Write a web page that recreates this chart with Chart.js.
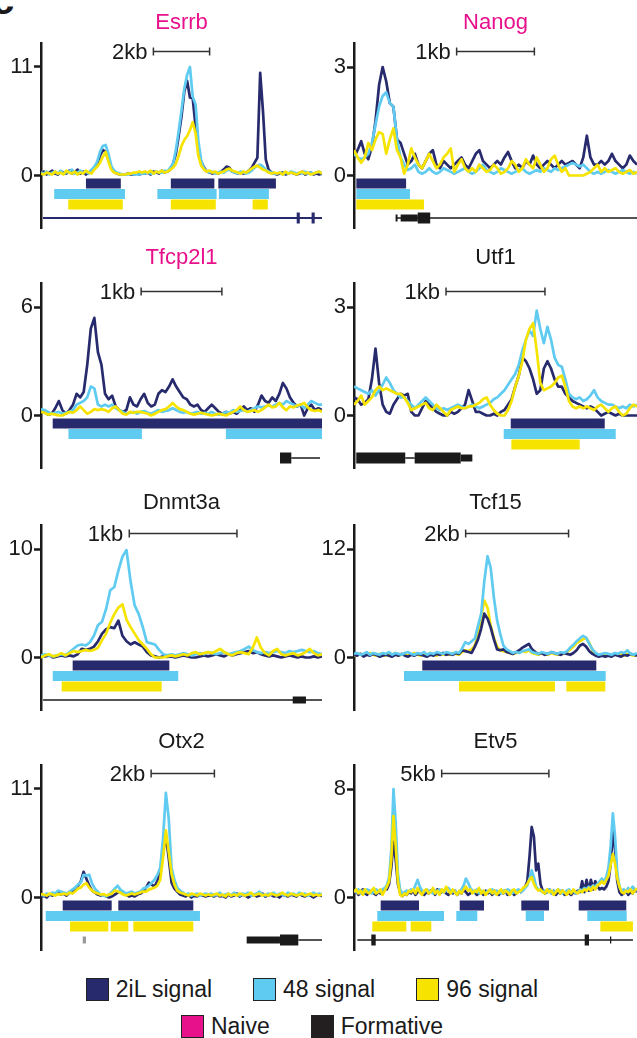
<!DOCTYPE html>
<html>
<head>
<meta charset="utf-8">
<script src="https://cdn.jsdelivr.net/npm/chart.js@4.4.1/dist/chart.umd.min.js"></script>
<style>
  body { margin: 0; background: #fff; width: 637px; height: 1038px; position: relative; overflow: hidden;
         font-family: 'Liberation Sans', Arial, sans-serif; color: #1a1a1a; }
  canvas { position: absolute; }
  .tag { position: absolute; left: -8px; top: -20px; font: bold 40px 'Liberation Sans', Arial, sans-serif; line-height: 40px; }
  .legend { position: absolute; left: 0; width: 624px; height: 24px; display: flex; justify-content: center;
            align-items: center; gap: 41px; font-size: 23px; }
  .legend span.item { display: flex; align-items: center; white-space: nowrap; }
  .legend i { display: inline-block; width: 21px; height: 21px; border: 1px solid #222; margin-right: 7px; box-sizing: content-box; }
</style>
</head>
<body>
<div class="tag">c</div>
<div class="legend" style="top:977px">
  <span class="item"><i style="background:#272b6d"></i>2iL signal</span>
  <span class="item"><i style="background:#5fcbf1"></i>48 signal</span>
  <span class="item"><i style="background:#f6e400"></i>96 signal</span>
</div>
<div class="legend" style="top:1014px">
  <span class="item"><i style="background:#e8118c"></i>Naive</span>
  <span class="item"><i style="background:#231f20"></i>Formative</span>
</div>
<script>
// --- Panels ---
const GENES = ['Esrrb', 'Nanog', 'Tfcp2l1', 'Utf1', 'Dnmt3a', 'Tcf15', 'Otx2', 'Etv5'];
const NAIVE_GENES = ['Esrrb', 'Nanog', 'Tfcp2l1'];
const Y_MAX = [11, 3, 6, 3, 10, 12, 11, 8];
const WINDOW_KB = [10, 3.64, 3.48, 2.86, 2.61, 5.5, 8.88, 13.2];
const SCALE_KB = [2, 1, 1, 1, 1, 2, 2, 5];
const SCALE_START_KB = [4.0, 1.32, 1.24, 0.93, 0.82, 2.17, 3.48, 4.09];

// --- Signal tracks (evenly spaced across each window) ---
const ESRRB_2IL = [0.2,0.4,0.1,0.3,0.5,0.2,0.1,0.4,0.3,0.2, 0.5,0.2,0.3,0.6,0.2,0.4,0.1,0.3,0.5,0.8,
  1.2,2.0,2.6,2.4,1.6,0.8,0.4, 0.2,0.1,0.1,0.1,0.2,0.1,0.1,0.2,0.1,0.2, 0.2,0.3,0.1,0.4,0.3,0.2,0.5,0.3,0.4,0.6,
  1.2,2.2,4.0,6.0,8.5,9.6,7.9,7.8,5.0,2.6,1.4,0.8,0.4, 0.3,0.2,0.3,0.2,0.4,0.6,0.9,0.8,0.4,0.3,
  0.2,0.3,0.2,0.3,0.5,0.8,1.3,1.8,10.4,6.5,1.6,0.6,0.3,0.2,
  0.1,0.2,0.3,0.1,0.2,0.3,0.2,0.1,0.2,0.4,0.1,0.2,0.3,0.1,0.2,0.1,0.2];
const ESRRB_48 = [0.3,0.2,0.4,0.1,0.3,0.4,0.2,0.5,0.2,0.3, 0.4,0.6,0.2,0.3,0.5,0.3,0.4,0.2,0.6,0.9,
  1.4,2.4,3.0,3.1,2.2,1.0,0.5, 0.3,0.2,0.1,0.1,0.1,0.2,0.1,0.1,0.1,0.2, 0.2,0.3,0.2,0.2,0.4,0.3,0.3,0.5,0.4,0.8,
  1.2,2.6,4.5,6.6,8.8,10.2,11.0,8.0,7.2,3.5,1.5,0.7,0.4, 0.3,0.4,0.2,0.3,0.4,0.3,0.5,0.6,0.4,0.3,
  0.2,0.4,0.3,0.2,0.3,0.5,0.8,1.0,1.1,0.9,0.6,0.4,0.3,0.2,
  0.2,0.3,0.1,0.3,0.2,0.4,0.3,0.2,0.3,0.2,0.4,0.2,0.3,0.2,0.3,0.4,0.2];
const ESRRB_96 = [0.2,0.1,0.3,0.2,0.1,0.4,0.2,0.3,0.1,0.5, 0.3,0.2,0.4,0.1,0.3,0.2,0.5,0.3,0.2,0.6,
  0.9,1.3,1.9,2.4,1.4,0.6,0.3, 0.2,0.1,0.1,0.1,0.2,0.2,0.3,0.3,0.4,0.3, 0.4,0.3,0.5,0.2,0.4,0.3,0.5,0.3,0.4,0.6,
  0.8,1.2,2.0,3.0,3.6,4.0,4.6,5.4,4.3,2.0,1.0,0.6,0.4, 0.5,0.3,0.4,0.2,0.3,0.4,0.6,0.7,0.5,0.4,
  0.3,0.2,0.4,0.3,0.5,0.7,0.9,1.0,0.8,0.6,0.5,0.3,0.2,0.3,
  0.2,0.3,0.1,0.4,0.2,0.3,0.2,0.1,0.3,0.4,0.2,0.3,0.1,0.2,0.3,0.4,0.2];

const NANOG_2IL = [0.5,0.7,0.95,0.6,0.45,0.8,1.5,2.5,3.0,2.6, 2.0,1.9,1.0,0.9,0.6,0.3,0.4,0.6,0.3,0.2,
  0.4,0.6,0.7,0.3,0.2,0.4,0.3,0.2,0.3,0.4, 0.5,0.3,0.2,0.4,0.6,0.7,0.4,0.3,0.2,0.3,
  0.4,0.3,0.5,0.65,0.4,0.2,0.3,0.2,0.4,0.3, 0.55,0.3,0.2,0.3,0.4,0.3,0.2,0.3,0.4,0.3,
  0.35,0.4,0.3,0.2,0.5,1.1,0.5,0.3,0.3,0.4, 0.3,0.4,0.6,0.4,0.3,0.2,0.3,0.55,0.4,0.3];
const NANOG_48 = [0.6,0.5,0.45,0.5,0.6,0.9,1.4,1.9,2.2,2.3, 2.0,1.9,1.0,0.5,0.3,0.15,0.2,0.3,0.1,0.05,
  0.1,0.2,0.1,0.05,0.1,0.2,0.15,0.1,0.05,0.1, 0.15,0.2,0.1,0.05,0.1,0.2,0.3,0.15,0.1,0.05,
  0.1,0.2,0.15,0.1,0.05,0.1,0.15,0.2,0.1,0.05, 0.1,0.15,0.1,0.2,0.15,0.1,0.2,0.15,0.2,0.25,
  0.3,0.35,0.3,0.25,0.3,0.2,0.1,0.05,0.1,0.05, 0.1,0.15,0.1,0.05,0.1,0.15,0.1,0.05,0.1,0.05];
const NANOG_96 = [0.7,0.5,0.35,0.5,0.9,0.7,1.0,1.2,1.15,0.6, 1.0,1.3,0.7,0.5,0.05,0.3,0.75,0.5,0.3,0.2,
  0.4,0.6,0.4,0.2,0.3,0.5,0.6,0.75,0.1,0.3, 0.45,0.2,0.1,0.2,0.1,0.3,0.2,0.1,0.15,0.3,
  0.2,0.05,0.1,0.2,0.4,0.3,0.1,0.2,0.45,0.3, 0.2,0.5,0.3,0.1,0.2,0.45,0.55,0.3,0.1,0.2,
  0,0,0,0,0,0.05,0.1,0.2,0.3,0.1, 0.2,0.1,0.15,0.2,0.1,0.05,0.1,0.15,0.05,0.1];

const TFCP2L1_2IL = [0.3,0.2,0.05,0.1,0.4,0.8,0.3,0.1,0.3,0.6, 1.2,1.0,1.3,2.8,4.8,5.4,3.5,2.8,1.2,0.9,
  1.1,0.5,0.3,0.2,0.3,1.0,0.6,0.5,0.9,1.2, 0.7,0.5,0.6,1.2,1.4,1.3,1.6,2.0,1.6,1.3,
  1.0,0.9,0.6,0.5,0.6,0.3,0.2,0.4,0.6,0.4, 0.2,0.1,0.2,0.1,0.2,0.1,0.3,0.5,0.3,0.4,
  0.2,0.6,1.1,0.8,0.7,1.0,0.8,1.2,1.8,1.5, 1.0,0.7,0.5,0.6,0,0.4,0.6,0.3,0.4,0.3];
const TFCP2L1_48 = [0.35,0.3,0.2,0.1,0.15,0.2,0.1,0.15,0.2,0.3, 0.6,0.7,0.8,1.0,1.6,1.5,0.6,0.5,0.6,0.5,
  0.6,0.4,0.3,0.2,0.1,0.15,0.2,0.1,0.2,0.25, 0.15,0.1,0.2,0.3,0.2,0.25,0.3,0.4,0.3,0.2,
  0.15,0.2,0.1,0.15,0.2,0.1,0.15,0.1,0.2,0.1, 0.05,0.1,0.2,0.15,0.3,0.2,0.25,0.3,0.2,0.3,
  0.4,0.5,0.45,0.5,0.55,0.5,0.6,0.7,0.6,0.8, 0.7,0.6,0.5,0.6,0.4,0.6,0.8,0.7,0.6,0.6];
const TFCP2L1_96 = [0.2,0.15,0.05,0.1,0.05,0,0,0.1,0.2,0.15, 0.3,0.5,0.3,0.1,0.2,0.35,0.3,0.35,0.3,0.2,
  0.4,0.5,0.3,0.1,0.05,0.2,0.15,0.2,0.2,0.15, 0.1,0,0.1,0.2,0.3,0.35,0.5,0.7,0.5,0.35,
  0.3,0.2,0.1,0.05,0.1,0.15,0.1,0.05,0,0.05, 0.1,0.05,0,0.1,0.2,0.3,0.5,0.3,0.2,0.25,
  0.3,0.2,0.3,0.45,0.6,0.45,0.5,0.7,0.45,0.3, 0.5,0.45,0.55,0.6,0.7,0.45,0.3,0.25,0.3,0.2];

const UTF1_2IL = [0.5,0.45,0.3,0.35,0.45,1.0,1.85,0.9,0.3,0.1, 0.05,0.3,0.45,0.6,0.55,0.6,0.1,0,0,0.2,
  0.4,0.3,0.2,0.1,0.05,0,0,0.1,0.05,0.1, 0.2,0.3,0.7,0.4,0.1,0.1,0.05,0,0,0.05,
  0,0.1,0.15,0.3,0.45,0.8,1.1,1.6,1.5,1.3, 1.0,0.6,0.7,1.3,1.5,1.3,1.0,0.8,0.8,0.6,
  0.5,0.4,0.35,0.3,0.25,0.2,0.25,0.2,0.1,0, 0.05,0.1,0.05,0,0.05,0,0,0,0,0];
const UTF1_48 = [0.8,0.75,0.7,0.65,0.6,0.7,0.55,0.7,0.85,1.05, 0.9,0.7,0.6,0.5,0.5,0.4,0.3,0.2,0.3,0.4,
  0.5,0.4,0.3,0.2,0.15,0.2,0.15,0.2,0.25,0.3, 0.25,0.2,0.25,0.3,0.25,0.2,0.25,0.3,0.35,0.45,
  0.5,0.6,0.7,0.85,1.0,1.15,1.4,1.8,2.1,2.35, 2.2,2.9,2.4,2.0,2.45,2.1,1.6,1.4,1.35,1.0,
  0.6,0.5,0.45,0.5,0.4,0.45,0.55,0.7,0.5,0.4, 0.35,0.3,0.3,0.25,0.2,0.25,0.2,0.3,0.25,0.3];
const UTF1_96 = [0.3,0.4,0.55,0.3,0.4,0.5,0.7,0.8,0.7,0.75, 0.7,0.65,0.6,0.6,0.5,0.35,0.15,0.2,0.25,0.3,
  0.35,0.2,0.15,0.3,0.2,0.1,0,0.15,0.2,0.25, 0.2,0.2,0.25,0.25,0.3,0.35,0.45,0.5,0.3,0.15,
  0.05,0,0,0.15,0.4,0.8,1.1,1.5,2.1,2.4, 2.55,1.8,0.9,0.7,0.75,0.8,0.9,1.05,1.1,0.8,
  0.4,0.25,0.2,0.25,0.2,0.25,0.2,0.15,0.25,0.3, 0.2,0.1,0.2,0.25,0.1,0,0.05,0.2,0.3,0.25];

const DNMT3A_2IL = [0.2,0.1,0.2,0,0.1,0.2,0.1,0.2,0.1,0.3, 0.8,0.7,0.8,1.0,1.5,2.2,2.6,2.8,2.7,3.4,
  2.0,1.5,1.2,1.4,1.2,1.0,0.5,0.2,0.1,0, 0.1,0.05,0.1,0,0.1,0.2,0.1,0,0,0.1,
  0.2,0.1,0.2,0.3,0.2,0.1,0.3,0.2,0.3,0.4, 0.5,0.6,0.4,0.5,0.3,0.2,0.1,0.2,0.1,0,
  0.1,0.2,0.1,0,0.1,0,0,0.1,0,0.1];
const DNMT3A_48 = [0.2,0.3,0.2,0.1,0.2,0.3,0.2,0.5,0.8,1.1, 1.2,1.1,1.4,2.0,3.0,3.3,4.5,6.2,6.5,8.0,
  9.3,9.9,7.0,4.8,4.0,2.8,1.4,1.3,1.2,0.7, 0.3,0.2,0.3,0.2,0.3,0.4,0.3,0.2,0.3,0.4,
  0.3,0.5,0.4,0.3,0.4,0.5,0.3,0.4,0.5,0.6, 0.8,1.0,0.7,0.5,0.4,0.5,0.4,0.5,0.6,0.5,
  0.4,0.6,0.5,0.6,0.7,0.6,0.5,0.6,0.4,0.3];
const DNMT3A_96 = [0,0.2,0.3,0.1,0.2,0.4,0.2,0.4,0.6,0.5, 0.6,0.7,0.6,0.7,0.9,1.6,2.2,3.2,4.0,4.6,
  4.9,3.5,2.8,2.2,1.6,1.2,0.8,0.3,0,0, 0,0.1,0.2,0.1,0.2,0.3,0.2,0.4,0.5,0.3,
  0.4,0.5,0.4,0.6,0.8,0.5,0.3,0.2,0.4,0.5, 0.4,0.3,0.9,1.85,0.9,0.4,0.2,0.6,0.8,0.3,
  0.2,0.3,0.4,0.2,0.3,0.5,0.8,0.4,0.2,0.3];

const TCF15_2IL = [0.3,0.2,0.4,0.1,0.3,0.2,0.4,0.3,0.1,0.2, 0.3,0.2,0.1,0.3,0.2,0.4,0.2,0.1,0.3,0.2,
  0.4,0.3,0.2,0.1,0.3,0.2,0.4,0.3,0.5,0.3, 0.4,0.3,0.5,0.4,0.8,0.7,0.6,0.5,1.2,2.0,
  3.2,4.85,4.3,3.3,2.0,0.9,0.8,0.9,0.6,0.5, 0.4,0.6,0.8,1.1,1.3,1.5,0.9,0.6,0.4,0.5,
  0.3,0.4,0.6,0.5,0.4,0.3,0.5,0.4,0.3,0.5, 0.8,1.3,1.5,1.2,0.7,0.4,0.2,0.1,0.2,0.1,
  0.2,0.1,0.3,0.2,0.1,0.3,0.2,0.4,0.3,0.2];
const TCF15_48 = [0.4,0.5,0.3,0.4,0.6,0.3,0.5,0.4,0.3,0.5, 0.4,0.6,0.3,0.5,0.4,0.3,0.5,0.6,0.4,0.3,
  0.5,0.4,0.6,0.3,0.5,0.4,0.6,0.5,0.4,0.6, 0.5,0.4,0.6,0.5,1.0,1.7,1.5,1.8,2.1,3.5,
  4.85,8.5,11.2,9.9,6.6,4.1,2.6,1.3,0.9,0.7, 0.5,0.6,0.5,0.7,0.8,0.9,0.6,0.5,0.4,0.6,
  0.5,0.4,0.6,0.5,0.4,0.6,0.5,0.7,1.1,1.4, 1.8,2.1,2.4,2.2,1.5,0.9,0.5,0.3,0.4,0.5,
  0.4,0.3,0.5,0.4,0.6,0.5,0.8,0.4,0.3,0.5];
const TCF15_96 = [0.2,0.3,0.4,0.2,0.3,0.5,0.3,0.2,0.4,0.3, 0.2,0.4,0.3,0.5,0.2,0.3,0.4,0.2,0.3,0.5,
  0.3,0.2,0.4,0.3,0.5,0.3,0.2,0.4,0.3,0.4, 0.3,0.5,0.4,0.3,0.6,0.8,0.7,0.9,1.3,2.5,
  4.5,6.3,5.5,3.5,2.2,1.2,0.8,0.7,0.6,0.5, 0.4,0.5,0.6,0.7,0.6,0.8,0.5,0.4,0.3,0.5,
  0.4,0.3,0.5,0.4,0.3,0.5,0.4,0.6,0.9,1.2, 1.6,1.8,2.0,2.2,1.6,0.8,0.4,0.3,0.2,0.4,
  0.3,0.2,0.4,0.3,0.5,0.2,0.4,0.3,0.2,0.3];

const OTX2_2IL = [0.1,0.2,0,0.3,0.2,0.4,0.5,0.3,0.4,0.2,0.5,0.6, 0.9,1.2,1.6,2.6,1.9,1.2,0.7,0.5,
  0.3,0.2,0.3,0.1,0,0.1,0.3,0.5,0.6,0.4, 0.3,0.1,0.2,0.1,0.3,0.4,0.6,1.0,1.5,1.3,1.1,
  1.7,2.5,4.5,6.3,4.0,1.5,0.9,0.6,0.3, 0.2,0.1,0.3,0,0.2,0.1,0.3,0.2,0.1,0.2,
  0.2,0.1,0.3,0.1,0.2,0,0.3,0.1,0.2,0.4, 0.1,0.3,0.2,0,0.2,0.3,0.1,0.2,0.4,0.1,
  0.2,0.3,0.1,0.2,0,0.3,0.2,0.1,0.3,0.2, 0.1,0.4,0.2,0.1,0.3,0.2,0,0.2,0.3,0.1];
const OTX2_48 = [0.3,0.2,0.4,0.3,0.5,0.4,0.7,0.6,0.5,0.4,0.6,0.8, 1.0,1.3,1.5,2.3,2.2,2.3,1.4,0.9,
  0.6,0.3,0.2,0.1,0.3,0.6,0.9,1.2,0.8,0.6, 0.4,0.5,0.6,0.4,0.5,0.6,0.9,1.0,1.2,1.5,1.8,
  2.3,3.0,6.0,10.6,8.0,3.0,1.8,1.0,0.7, 0.5,0.3,0.4,0.2,0.3,0.4,0.2,0.3,0.4,0.3,
  0.4,0.2,0.3,0.5,0.2,0.3,0.4,0.2,0.5,0.3, 0.2,0.4,0.3,0.5,0.2,0.3,0.4,0.6,0.3,0.2,
  0.4,0.3,0.5,0.2,0.4,0.3,0.2,0.5,0.3,0.4, 0.2,0.5,0.3,0.4,0.2,0.3,0.5,0.3,0.4,0.3];
const OTX2_96 = [0.35,0.3,0.2,0.4,0.3,0.2,0.35,0.3,0.4,0.3,0.5,0.4, 0.6,0.9,1.0,1.3,1.45,1.0,0.7,0.5,
  0.4,0.3,0.35,0.2,0.3,0.4,0.7,0.6,0.5,0.3, 0.2,0.3,0.4,0.3,0.4,0.5,0.6,0.6,0.8,0.9,1.0,
  1.2,1.8,4.0,6.8,4.6,2.4,1.3,0.7,0.5, 0.4,0.3,0.2,0.4,0.3,0.2,0.4,0.3,0.2,0.3,
  0.2,0.3,0.4,0.2,0.3,0.1,0.4,0.2,0.3,0.2, 0.4,0.3,0.2,0.3,0.5,0.2,0.3,0.4,0.2,0.3,
  0.2,0.4,0.3,0.2,0.3,0.5,0.3,0.2,0.4,0.3, 0.2,0.3,0.4,0.2,0.3,0.4,0.2,0.3,0.2,0.3];

const ETV5_2IL = [0.3,0.5,0.2,0.4,0.6,0.3,0.2,0.5,0.4,0.3,0.2,0.4,0.3,0.5,0.6,
  0.6,1.0,2.2,4.1,2.8,1.0,0.4,0.1,
  0.3,0.2,0.4,0.3,0.5,0.2,0.4,0.6,0.3,0.2, 0.4,0.3,0.5,0.4,0.2,0.6,0.3,0.4,0.5,0.3,
  0.2,0.4,0.3,0.5,0.2,0.4,0.3,0.6,0.4,0.2, 0.3,0.5,0.4,0.2,0.3,0.4,0.2,0.5,
  0.3,0.4,0.2,0.5,0.3,0.2,0.4,0.3,0.5,0.2,0.3,0.4,0.2,0.3,0.5,0.4,0.6,0.8,
  1.2,3.0,5.2,4.5,2.0,2.5,1.0,0.5,
  0.3,0.4,0.6,0.3,0.5,0.2,0.4,0.3,0.5,0.2,0.4,0.3,0.2,0.4,0.3,0.5,0.4,
  1.2,0.4,1.3,0.5,1.3,0.6,1.2,0.8,0.6,
  0.7,0.6,0.8,1.2,2.5,4.9,3.5,1.2,0.4,0.2,
  0.3,0.5,0.2,0.4,0.3,0.6,0.4];
const ETV5_48 = [0.5,0.4,0.6,0.3,0.5,0.4,0.6,0.5,0.3,0.4,0.6,0.5,0.4,0.6,0.7,
  0.9,1.5,3.5,8.0,5.5,1.8,0.6,0.3,
  0.4,0.5,0.4,0.6,0.5,0.9,1.3,0.8,0.5,0.4, 0.6,0.5,0.4,0.3,0.5,0.4,0.6,0.5,0.4,0.5,
  0.7,0.5,0.4,0.5,0.3,0.4,0.6,0.9,1.4,1.1, 0.7,0.5,0.4,0.6,0.3,0.5,0.4,0.3,
  0.5,0.4,0.6,0.3,0.5,0.4,0.3,0.5,0.4,0.6,0.5,0.3,0.4,0.5,0.6,0.4,0.5,0.7,
  0.9,1.4,2.0,1.5,0.8,0.6,0.5,0.4,
  0.5,0.4,0.6,0.3,0.5,0.4,0.6,0.5,0.3,0.4,0.5,0.6,0.4,0.5,0.3,0.4,0.6,
  0.5,0.7,0.6,0.8,0.7,0.9,0.8,1.0,1.2,
  1.4,1.2,1.5,2.2,3.8,6.2,4.5,1.8,0.8,0.5,
  0.6,0.4,0.7,0.5,0.8,0.6,0.5];
const ETV5_96 = [0.4,0.6,0.3,0.5,0.2,0.6,0.4,0.3,0.5,0.7,0.3,0.4,0.6,0.2,0.5,
  0.8,1.2,2.8,6.0,3.8,1.2,0.2,0.1,
  0.3,0.2,0.5,0.4,0.6,0.3,0.7,0.4,0.2,0.5, 0.6,0.3,0.4,0.7,0.3,0.5,0.2,0.6,0.4,0.8,
  0.5,0.3,0.6,0.4,0.2,0.5,0.3,0.6,0.8,0.5, 0.6,0.3,0.5,0.4,0.7,0.3,0.5,0.2,
  0.4,0.6,0.3,0.5,0.2,0.4,0.6,0.3,0.5,0.4,0.2,0.5,0.6,0.3,0.4,0.5,0.7,0.8,
  1.0,1.3,1.5,1.0,0.7,0.5,0.6,0.4,
  0.3,0.6,0.4,0.5,0.2,0.4,0.6,0.3,0.5,0.4,0.2,0.5,0.3,0.6,0.4,0.3,0.5,
  0.4,0.6,0.5,0.7,0.5,0.8,0.6,0.9,1.0,
  1.2,1.0,1.3,1.6,2.4,3.2,2.5,1.4,0.8,0.4,
  0.3,0.5,0.4,0.6,0.3,0.5,0.7];

// --- Peak calls, [start, end] in kb from window start ---
const ESRRB_PEAKS_2IL = [[1.60, 2.84], [4.62, 6.17], [6.31, 8.36]];
const ESRRB_PEAKS_48 = [[0.47, 2.99], [4.14, 6.25], [6.33, 8.11]];
const ESRRB_PEAKS_96 = [[0.97, 2.91], [4.62, 6.22], [7.53, 8.07]];
const NANOG_PEAKS_2IL = [[0.03, 0.67]];
const NANOG_PEAKS_48 = [[0.03, 0.72]];
const NANOG_PEAKS_96 = [[0.03, 0.90]];
const TFCP2L1_PEAKS_2IL = [[0.145, 3.48]];
const TFCP2L1_PEAKS_48 = [[0.34, 1.25], [2.29, 3.48]];
const TFCP2L1_PEAKS_96 = [];
const UTF1_PEAKS_2IL = [[1.584, 2.534]];
const UTF1_PEAKS_48 = [[1.513, 2.645]];
const UTF1_PEAKS_96 = [[1.590, 2.281]];
const DNMT3A_PEAKS_2IL = [[0.294, 1.192]];
const DNMT3A_PEAKS_48 = [[0.109, 1.275]];
const DNMT3A_PEAKS_96 = [[0.192, 1.121]];
const TCF15_PEAKS_2IL = [[1.327, 4.709]];
const TCF15_PEAKS_48 = [[0.972, 4.892]];
const TCF15_PEAKS_96 = [[2.041, 3.906], [4.126, 4.884]];
const OTX2_PEAKS_2IL = [[0.686, 2.234], [2.443, 4.813]];
const OTX2_PEAKS_48 = [[0.149, 5.024]];
const OTX2_PEAKS_96 = [[0.916, 2.127], [2.203, 2.759], [2.917, 4.813]];
const ETV5_PEAKS_2IL = [[1.245, 3.032], [4.93, 6.064], [7.803, 9.095], [10.48, 12.70]];
const ETV5_PEAKS_48 = [[1.087, 4.198], [4.772, 5.751], [8.009, 8.862], [10.88, 12.72]];
const ETV5_PEAKS_96 = [[0.854, 2.439], [2.645, 3.605], [11.49, 13.01]];

// --- Gene models (kb): intron line, UTR blocks, coding blocks, other marks ---
const ESRRB_GENE = { line: [[0.07, 10]], utr: [], cds: [[9.10, 9.21], [9.63, 9.74]], mark: [] };
const NANOG_GENE = { line: [[0.54, 3.64]], utr: [[0.535, 0.56], [0.60, 0.82]], cds: [[0.82, 0.98]], mark: [] };
const TFCP2L1_GENE = { line: [[3.10, 3.455]], utr: [], cds: [[2.96, 3.10]], mark: [] };
const UTF1_GENE = { line: [[0.518, 0.613]], utr: [[1.078, 1.196]], cds: [[0.023, 0.518], [0.613, 1.078]], mark: [] };
const DNMT3A_GENE = { line: [[0.019, 2.61]], utr: [[2.338, 2.461]], cds: [], mark: [] };
const TCF15_GENE = { line: [], utr: [], cds: [], mark: [] };
const OTX2_GENE = { line: [[8.131, 8.88]], utr: [[6.5, 7.552]], cds: [[7.552, 8.131]], mark: [[1.318, 1.422]] };
const ETV5_GENE = { line: [[0.154, 13.01]], utr: [[11.94, 12.0]], cds: [[0.807, 1.012], [10.76, 10.96]], mark: [] };

const SIGNALS = [
    [ESRRB_2IL, ESRRB_48, ESRRB_96], [NANOG_2IL, NANOG_48, NANOG_96],
    [TFCP2L1_2IL, TFCP2L1_48, TFCP2L1_96], [UTF1_2IL, UTF1_48, UTF1_96],
    [DNMT3A_2IL, DNMT3A_48, DNMT3A_96], [TCF15_2IL, TCF15_48, TCF15_96],
    [OTX2_2IL, OTX2_48, OTX2_96], [ETV5_2IL, ETV5_48, ETV5_96]
];
const PEAKS = [
    [ESRRB_PEAKS_2IL, ESRRB_PEAKS_48, ESRRB_PEAKS_96], [NANOG_PEAKS_2IL, NANOG_PEAKS_48, NANOG_PEAKS_96],
    [TFCP2L1_PEAKS_2IL, TFCP2L1_PEAKS_48, TFCP2L1_PEAKS_96], [UTF1_PEAKS_2IL, UTF1_PEAKS_48, UTF1_PEAKS_96],
    [DNMT3A_PEAKS_2IL, DNMT3A_PEAKS_48, DNMT3A_PEAKS_96], [TCF15_PEAKS_2IL, TCF15_PEAKS_48, TCF15_PEAKS_96],
    [OTX2_PEAKS_2IL, OTX2_PEAKS_48, OTX2_PEAKS_96], [ETV5_PEAKS_2IL, ETV5_PEAKS_48, ETV5_PEAKS_96]
];
const GENE_MODELS = [ESRRB_GENE, NANOG_GENE, TFCP2L1_GENE, UTF1_GENE, DNMT3A_GENE, TCF15_GENE, OTX2_GENE, ETV5_GENE];

// --- Styles ---
const FONT = "'Liberation Sans', Arial, sans-serif";
const INK = '#1a1a1a';
const PINK = '#e8118c';
const SERIES_COLORS = ['#272b6d', '#5fcbf1', '#f6e400'];
// draw order per panel (lower = drawn on top): [2iL, 48, 96]
const LAYERS = [[3, 2, 1], [3, 2, 1], [3, 2, 1], [3, 2, 1], [3, 2, 1], [2, 1, 3], [3, 2, 1], [3, 2, 1]];

// layout: columns / rows of the 2x4 grid
const COLS = [{ left: 0, width: 322, axisWidth: 41 }, { left: 312, width: 325, axisWidth: 42 }];
const ROWS = [{ top: 0, titleTop: 9.3 }, { top: 240, titleTop: 4.8 }, { top: 482, titleTop: 7.8 }, { top: 722, titleTop: 6.5 }];
const HEAD_H = 43;         // title block height
const TRACK_H = 186;       // plot height, the track axis runs in px from the top
const ZERO_Y = 132.5;      // px from plot top to signal 0
const TOP_TICK_Y = 24;     // px from plot top to the max tick
const BAR_ROWS = [140.5, 151, 161.5];
const GENE_ROW = 175;
const SCALEBAR_ROW = 8.5;

function segments(list, level) {
    const pts = [];
    list.forEach(([a, b]) => {
        pts.push({ x: a, y: level }, { x: b, y: level }, { x: b, y: null });
    });
    return pts;
}

function trackSet(list, level, color, width, order) {
    return {
        data: segments(list, level), yAxisID: 'yt', borderColor: color, borderWidth: width,
        borderCapStyle: 'butt', pointRadius: 0, spanGaps: false, order: order
    };
}

// text label next to the scale bar
const scaleLabel = {
    id: 'scaleLabel',
    afterDatasetsDraw(chart, args, opts) {
        const { ctx, scales } = chart;
        ctx.save();
        ctx.font = `22px ${FONT}`;
        ctx.fillStyle = INK;
        ctx.textAlign = 'right';
        ctx.textBaseline = 'middle';
        ctx.fillText(opts.text, scales.x.getPixelForValue(opts.start) - 6, scales.yt.getPixelForValue(SCALEBAR_ROW) + 1);
        ctx.restore();
    }
};

GENES.forEach((gene, k) => {
    const col = COLS[k % 2];
    const row = ROWS[Math.floor(k / 2)];
    const ymax = Y_MAX[k];
    const span = WINDOW_KB[k];
    const unit = (ZERO_Y - TOP_TICK_Y) / ymax;  // px per signal unit

    const canvas = document.createElement('canvas');
    canvas.width = col.width;
    canvas.height = HEAD_H + TRACK_H;
    canvas.style.left = col.left + 'px';
    canvas.style.top = row.top + 'px';
    document.body.appendChild(canvas);

    const datasets = [];
    SIGNALS[k].forEach((vals, s) => {
        datasets.push({
            label: ['2iL signal', '48 signal', '96 signal'][s],
            data: vals.map((v, i) => ({ x: i * span / (vals.length - 1), y: v })),
            yAxisID: 'y', borderColor: SERIES_COLORS[s], borderWidth: 2.7,
            pointRadius: 0, tension: 0, borderJoinStyle: 'round', order: LAYERS[k][s]
        });
    });
    PEAKS[k].forEach((list, s) => {
        datasets.push(trackSet(list, BAR_ROWS[s], SERIES_COLORS[s], 10, 10));
    });
    const gm = GENE_MODELS[k];
    const geneColor = gene === 'Esrrb' ? SERIES_COLORS[0] : INK;
    datasets.push(trackSet(gm.line, GENE_ROW, geneColor, gene === 'Esrrb' ? 2 : 1.5, 12));
    datasets.push(trackSet(gm.utr, GENE_ROW, geneColor, 7, 11));
    datasets.push(trackSet(gm.cds, GENE_ROW, geneColor, 11, 11));
    datasets.push(trackSet(gm.mark, GENE_ROW, '#9a9a9a', 7, 11));
    // scale bar with end caps
    datasets.push({
        data: [{ x: SCALE_START_KB[k], y: SCALEBAR_ROW }, { x: SCALE_START_KB[k] + SCALE_KB[k], y: SCALEBAR_ROW }],
        yAxisID: 'yt', borderColor: '#333', borderWidth: 1.5, pointStyle: 'line', pointRotation: 90,
        pointRadius: 4, pointBorderWidth: 1.5, pointBorderColor: '#333', order: 12
    });

    new Chart(canvas, {
        type: 'line',
        data: { datasets },
        options: {
            responsive: false,
            animation: false,
            events: [],
            layout: { padding: 0, autoPadding: false },
            plugins: {
                legend: { display: false },
                tooltip: { enabled: false },
                title: {
                    display: true, text: gene, fullSize: false,
                    color: NAIVE_GENES.includes(gene) ? PINK : INK,
                    font: { family: FONT, size: 22, weight: 'normal', lineHeight: 1.2 },
                    padding: { top: row.titleTop, bottom: HEAD_H - 26.4 - row.titleTop }
                },
                scaleLabel: { text: SCALE_KB[k] + 'kb', start: SCALE_START_KB[k] }
            },
            scales: {
                x: { type: 'linear', display: false, min: 0, max: span },
                y: {
                    type: 'linear', position: 'left', bounds: 'data',
                    min: -(TRACK_H - ZERO_Y) / unit, max: ZERO_Y / unit,
                    afterBuildTicks: s => { s.ticks = [{ value: 0 }, { value: ymax }]; },
                    afterFit: s => { s.width = col.axisWidth; s.paddingTop = 0; s.paddingBottom = 0; },
                    ticks: { color: INK, padding: 1, font: { family: FONT, size: 22 }, callback: v => String(v) },
                    grid: { drawOnChartArea: false, drawTicks: true, tickLength: 7, tickWidth: 2.5, tickColor: INK },
                    border: { display: true, color: INK, width: 2.5 }
                },
                yt: { type: 'linear', display: false, reverse: true, min: 0, max: TRACK_H }
            }
        },
        plugins: [scaleLabel]
    });
});
</script>
</body>
</html>
